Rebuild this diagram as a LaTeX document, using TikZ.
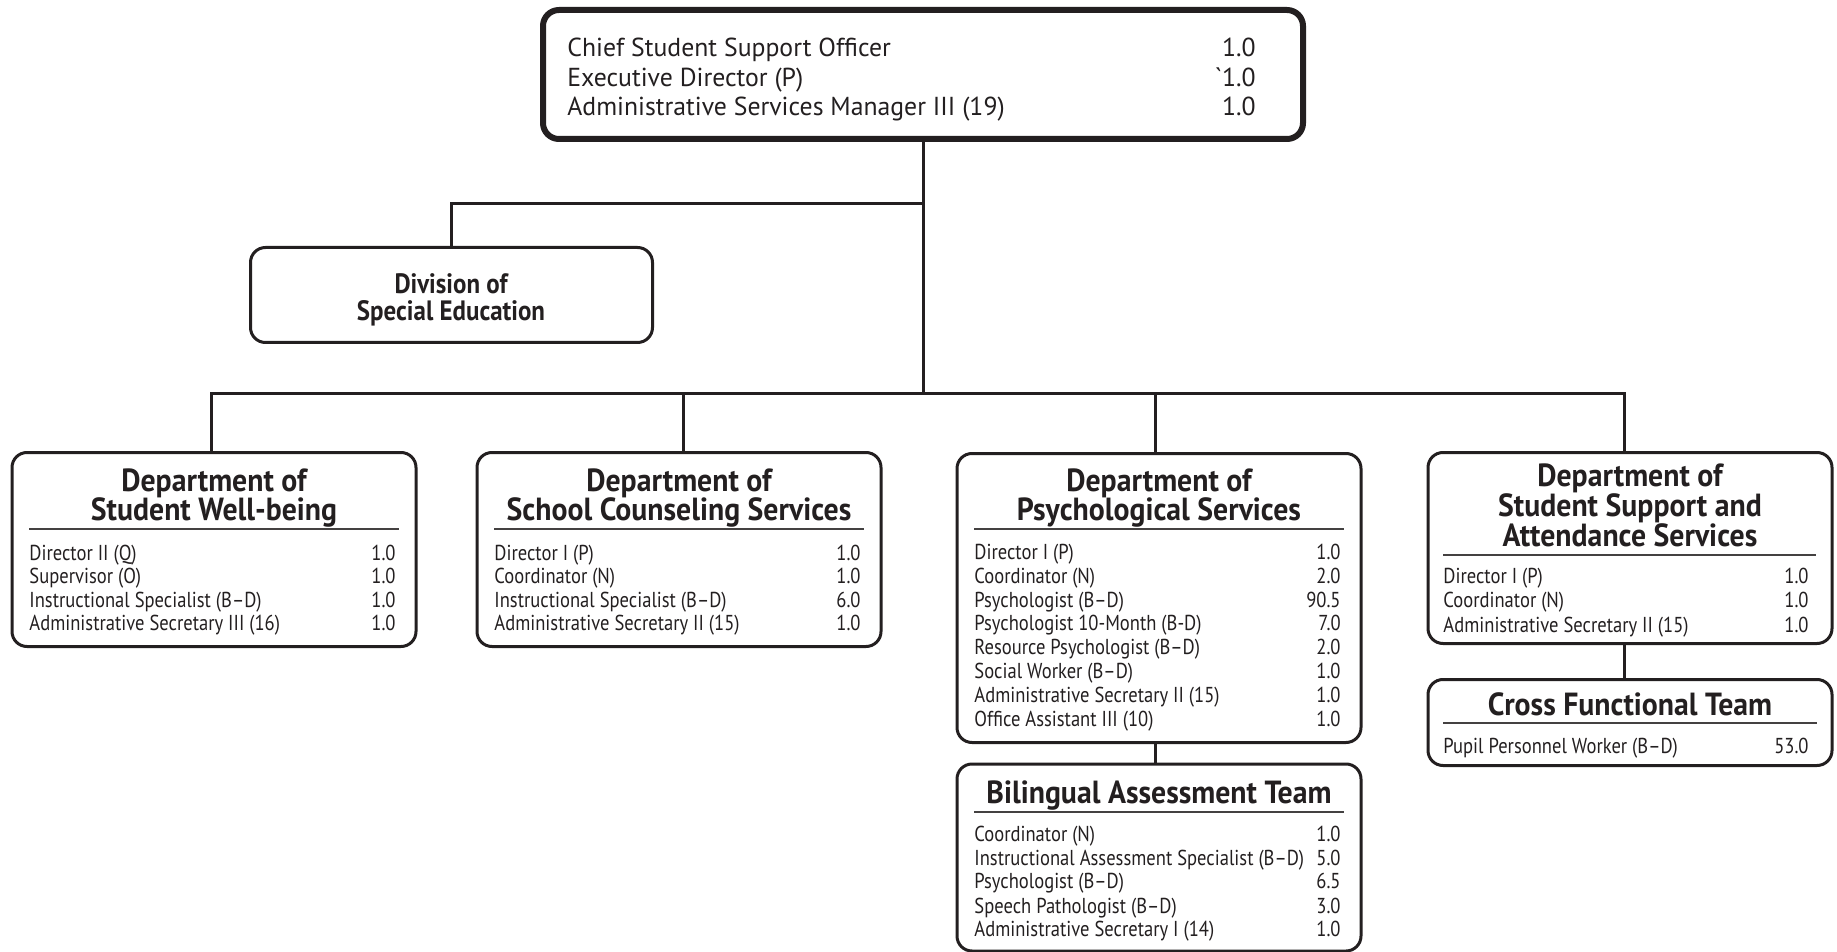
\documentclass[tikz,border=0pt]{standalone}
\usepackage{fontspec}
\setmainfont{PT Sans}
\newfontfamily\rowfont{PT Sans}[FakeStretch=0.86]
\newfontfamily\topfont{PT Sans}[FakeStretch=0.99]
\newfontfamily\headfont{PT Sans}[FakeStretch=0.93]
\newfontfamily\divfont{PT Sans}[FakeStretch=0.89]
\definecolor{ink}{RGB}{35,31,32}
\begin{document}
\begin{tikzpicture}[x=0.5pt,y=-0.5pt,
  box/.style={draw=ink, line width=1.5pt, rounded corners=7.5pt, inner sep=0pt, outer sep=0pt, minimum width=202pt},
  conn/.style={draw=ink, line width=1.5pt},
  rulel/.style={draw=ink!85, line width=1pt},
  lbl/.style={anchor=base west, inner sep=0pt, text=ink, font=\fontsize{10.8}{12}\rowfont},
  num/.style={anchor=base east, inner sep=0pt, text=ink, font=\fontsize{10.8}{12}\rowfont},
  toplbl/.style={anchor=base west, inner sep=0pt, text=ink, font=\fontsize{13}{15}\topfont},
  topnum/.style={anchor=base east, inner sep=0pt, text=ink, font=\fontsize{13}{15}\topfont},
  head/.style={anchor=base, inner sep=0pt, text=ink, font=\fontsize{16}{18}\headfont\bfseries},
  divhead/.style={anchor=base, inner sep=0pt, text=ink, font=\fontsize{14}{16}\divfont\bfseries}]
\useasboundingbox (0,0) rectangle (1837,952);

\node [box, line width=3pt, rounded corners=8pt, minimum width=380pt, minimum height=64.5pt] (cso) at (923,74.5) {};
\node [toplbl] (cso-l1) at (567,57) {Chief Student Support Officer};
\node [toplbl] (cso-l2) at (567,86.5) {Executive Director (P)};
\node [toplbl] (cso-l3) at (567,116) {Administrative Services Manager III (19)};
\node [topnum] (cso-n1) at (1256,57) {1.0};
\node [topnum] (cso-n2) at (1256,86.5) {\symbol{96}1.0};
\node [topnum] (cso-n3) at (1256,116) {1.0};

\node [box, minimum width=201pt, minimum height=47.5pt] (sped) at (451.5,295) {};
\node [divhead] (sped-h1) at (451,293.5) {Division of};
\node [divhead] (sped-h2) at (451,320.5) {Special Education};

\node [box, minimum height=97pt] (wellb) at (214,549.5) {};
\node [head] (wellb-h1) at (214,491) {Department of};
\node [head] (wellb-h2) at (214,520) {Student Well-being};
\draw [rulel] (29,529) -- (399,529);
\node [lbl] (wellb-l1) at (29,560) {Director II (Q)};
\node [lbl] (wellb-l2) at (29,583) {Supervisor (O)};
\node [lbl] (wellb-l3) at (29,607) {Instructional Specialist (B–D)};
\node [lbl] (wellb-l4) at (29,630) {Administrative Secretary III (16)};
\node [num] (wellb-n1) at (396,560) {1.0};
\node [num] (wellb-n2) at (396,583) {1.0};
\node [num] (wellb-n3) at (396,607) {1.0};
\node [num] (wellb-n4) at (396,630) {1.0};

\node [box, minimum height=97pt] (couns) at (679,549.5) {};
\node [head] (couns-h1) at (679,491) {Department of};
\node [head] (couns-h2) at (679,520) {School Counseling Services};
\draw [rulel] (494,529) -- (864,529);
\node [lbl] (couns-l1) at (494,560) {Director I (P)};
\node [lbl] (couns-l2) at (494,583) {Coordinator (N)};
\node [lbl] (couns-l3) at (494,607) {Instructional Specialist (B–D)};
\node [lbl] (couns-l4) at (494,630) {Administrative Secretary II (15)};
\node [num] (couns-n1) at (861,560) {1.0};
\node [num] (couns-n2) at (861,583) {1.0};
\node [num] (couns-n3) at (861,607) {6.0};
\node [num] (couns-n4) at (861,630) {1.0};

\node [box, minimum height=144.5pt] (psych) at (1159,598) {};
\node [head] (psych-h1) at (1159,491) {Department of};
\node [head] (psych-h2) at (1159,520) {Psychological Services};
\draw [rulel] (974,529) -- (1344,529);
\node [lbl] (psych-l1) at (974,559) {Director I (P)};
\node [lbl] (psych-l2) at (974,583) {Coordinator (N)};
\node [lbl] (psych-l3) at (974,607) {Psychologist (B–D)};
\node [lbl] (psych-l4) at (974,630.5) {Psychologist 10-Month (B-D)};
\node [lbl] (psych-l5) at (974,654) {Resource Psychologist (B–D)};
\node [lbl] (psych-l6) at (974,678) {Social Worker (B–D)};
\node [lbl] (psych-l7) at (974,702) {Administrative Secretary II (15)};
\node [lbl] (psych-l8) at (974,726) {Office Assistant III (10)};
\node [num] (psych-n1) at (1341,559) {1.0};
\node [num] (psych-n2) at (1341,583) {2.0};
\node [num] (psych-n3) at (1341,607) {90.5};
\node [num] (psych-n4) at (1341,630.5) {7.0};
\node [num] (psych-n5) at (1341,654) {2.0};
\node [num] (psych-n6) at (1341,678) {1.0};
\node [num] (psych-n7) at (1341,702) {1.0};
\node [num] (psych-n8) at (1341,726) {1.0};

\node [box, minimum height=95.5pt] (ppw) at (1630,548) {};
\node [head] (ppw-h1) at (1630,486.5) {Department of};
\node [head] (ppw-h2) at (1630,516.5) {Student Support and};
\node [head] (ppw-h3) at (1630,546.5) {Attendance Services};
\draw [rulel] (1443,555) -- (1816,555);
\node [lbl] (ppw-l1) at (1443,583) {Director I (P)};
\node [lbl] (ppw-l2) at (1443,607) {Coordinator (N)};
\node [lbl] (ppw-l3) at (1443,632) {Administrative Secretary II (15)};
\node [num] (ppw-n1) at (1809,583) {1.0};
\node [num] (ppw-n2) at (1809,607) {1.0};
\node [num] (ppw-n3) at (1809,632) {1.0};

\node [box, minimum height=43pt] (cft) at (1630,722.5) {};
\node [head] (cft-h1) at (1630,715) {Cross Functional Team};
\draw [rulel] (1443,723) -- (1817,723);
\node [lbl] (cft-l1) at (1443,753) {Pupil Personnel Worker (B–D)};
\node [num] (cft-n1) at (1809,753) {53.0};

\node [box, minimum height=93.5pt] (bat) at (1159,857.5) {};
\node [head] (bat-h1) at (1159,803) {Bilingual Assessment Team};
\draw [rulel] (974,812) -- (1344,812);
\node [lbl] (bat-l1) at (974,841) {Coordinator (N)};
\node [lbl] (bat-l2) at (974,865) {Instructional Assessment Specialist (B–D)};
\node [lbl] (bat-l3) at (974,888) {Psychologist (B–D)};
\node [lbl] (bat-l4) at (974,913) {Speech Pathologist (B–D)};
\node [lbl] (bat-l5) at (974,936) {Administrative Secretary I (14)};
\node [num] (bat-n1) at (1341,841) {1.0};
\node [num] (bat-n2) at (1341,865) {5.0};
\node [num] (bat-n3) at (1341,888) {6.5};
\node [num] (bat-n4) at (1341,913) {3.0};
\node [num] (bat-n5) at (1341,936) {1.0};

\coordinate (fork) at (923,204);
\coordinate (bus) at (923,393);
\draw [conn] (cso.south) -- (bus);
\draw [conn] (fork) -| (sped.north);
\draw [conn] (bus) -| ([xshift=-1.5pt]wellb.north);
\draw [conn] (bus) -| ([xshift=2pt]couns.north);
\draw [conn] (bus) -| ([xshift=-2pt]psych.north);
\draw [conn] (bus) -| ([xshift=-3pt]ppw.north);
\draw [conn] ([xshift=-2pt]psych.south) -- ([xshift=-2pt]bat.north);
\draw [conn] ([xshift=-3pt]ppw.south) -- ([xshift=-3pt]cft.north);
\end{tikzpicture}
\end{document}
